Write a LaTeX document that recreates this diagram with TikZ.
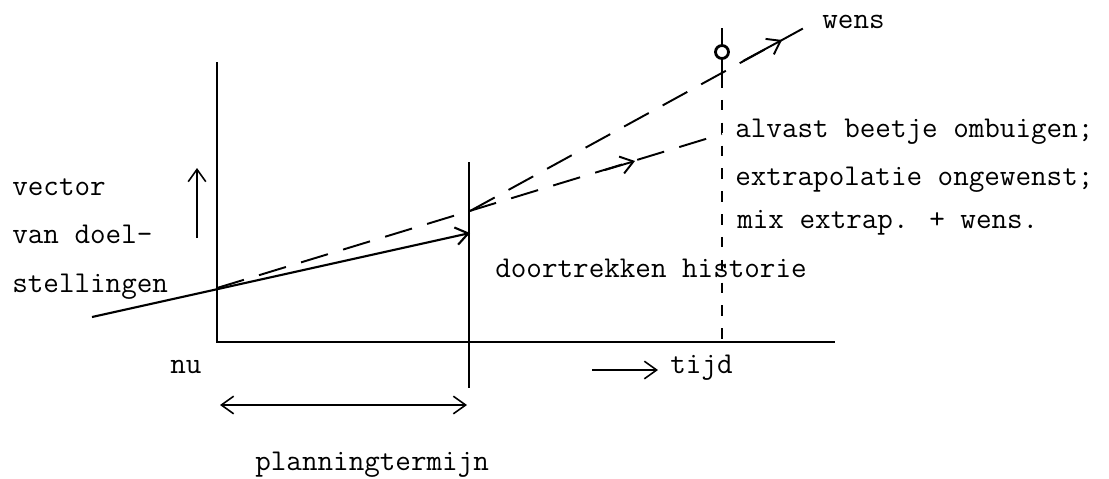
\documentclass[tikz,border=0pt]{standalone}
\usepackage{fontspec}
\usetikzlibrary{arrows.meta, positioning}

\begin{document}
\begin{tikzpicture}[x=0.2mm, y=-0.2mm,
  axis/.style={line width=1.4pt},
  guide/.style={line width=0.9pt},
  hist/.style={line width=1.2pt},
  planline/.style={line width=1.1pt, dash pattern=on 16pt off 9pt},
  vdash/.style={line width=0.9pt, dash pattern=on 6pt off 7pt},
  tip/.style={-{Straight Barb[length=7pt, width=10pt]}, line width=1.1pt},
  both/.style={{Straight Barb[length=7pt, width=10pt]}-{Straight Barb[length=7pt, width=10pt]}, line width=0.9pt},
  txt/.style={font=\ttfamily\fontsize{17.2}{20}\selectfont, inner sep=0pt, anchor=base west}
]
\useasboundingbox (0,0) rectangle (1109,478);

%% ── Axes ──
\coordinate (origin) at (217,342);
\coordinate (ytop)   at (217,62);
\coordinate (xend)   at (835,342);
\draw[axis] (ytop) -- (origin) -- (xend);

\coordinate (htop) at (469,162);
\coordinate (hbot) at (469,388);
\draw[guide] (htop) -- (hbot);

%% ── Wish marker ──
\node[circle, draw, line width=1.6pt, inner sep=0pt, minimum size=2.6mm] (goal) at (722,52) {};
\coordinate (wtop)   at (722,28);
\coordinate (wcross) at (722,77);
\coordinate (wfoot)  at (722,342);
\draw[guide] (wtop) -- (goal.north);
\draw[guide] (goal.south) -- (wcross);
\draw[vdash] (wcross) -- (wfoot);

%% ── History and extrapolation ──
\coordinate (past)   at (92,317);
\coordinate (nowpt)  at (217,288);
\coordinate (plan)   at (470,233);
\draw[tip, hist] (past) -- (plan);

\coordinate (fork)   at (470,211);
\coordinate (extrap) at (722,134);
\coordinate (wish)   at (813,23);
\draw[planline] (nowpt) -- (extrap);
\draw[planline] (fork) -- (wish);

\coordinate (ea) at (605,170);
\coordinate (eb) at (635,161);
\draw[tip] (ea) -- (eb);
\coordinate (wa) at (743,61);
\coordinate (wb) at (782,40);
\draw[tip] (wa) -- (wb);

%% ── Small arrows ──
\coordinate (upa) at (197,238);
\coordinate (upb) at (197,168);
\draw[tip, line width=0.9pt] (upa) -- (upb);

\coordinate (ta) at (592,370);
\coordinate (tb) at (658,370);
\draw[tip, line width=0.9pt] (ta) -- (tb);

\coordinate (pa) at (220,405);
\coordinate (pb) at (467,405);
\draw[both] (pa) -- (pb);

%% ── Labels ──
\node[txt] (vec1)  at (12,195)  {vector};
\node[txt] (vec2)  at (12,243)  {van doel-};
\node[txt] (vec3)  at (12,292)  {stellingen};
\node[txt] (nu)    at (170,373) {nu};
\node[txt] (tijd)  at (670,373) {tijd};
\node[txt] (term)  at (255,470) {planningtermijn};
\node[txt] (door)  at (495,277) {doortrekken historie};
\node[txt] (wens)  at (822,28)  {wens};
\node[txt] (opt1)  at (735,137) {alvast beetje ombuigen;};
\node[txt] (opt2)  at (735,185) {extrapolatie ongewenst;};
\node[txt] (opt3)  at (737,228) {mix extrap. + wens.};

\end{tikzpicture}
\end{document}
